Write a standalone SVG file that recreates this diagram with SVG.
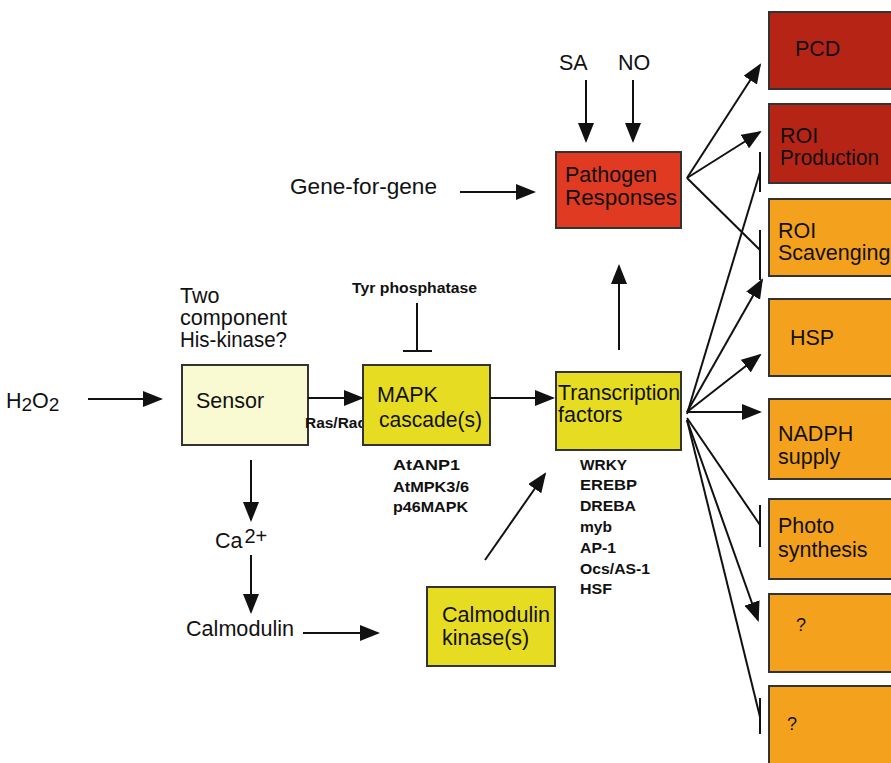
<svg xmlns="http://www.w3.org/2000/svg" width="891" height="763" viewBox="0 0 891 763">
<defs>
<marker id="ah2" viewBox="0 0 10 10" refX="9" refY="5" markerWidth="20" markerHeight="16" markerUnits="userSpaceOnUse" orient="auto" preserveAspectRatio="none">
<path d="M0,0 L10,5 L0,10 z" fill="#111"/>
</marker>
</defs>
<style>
text{font-family:"Liberation Sans",Arial,sans-serif;fill:#111}
.b{stroke:#333;stroke-width:2}
.lg{font-size:21.5px}
.sm{font-size:15px;font-weight:bold}
.c line{stroke:#111;stroke-width:2;fill:none}
.a{marker-end:url(#ah2)}
</style>
<rect width="891" height="763" fill="#fff"/>

<g id="sensor"><rect class="b" x="182" y="365" width="126" height="80" fill="#fafad2"/><text class="lg" x="196" y="408" fill="#333">Sensor</text></g>
<text id="rasrac" x="305" y="428" font-size="14" font-weight="bold" fill="#222" textLength="61" lengthAdjust="spacingAndGlyphs">Ras/Rac</text>
<g id="mapk"><rect class="b" x="363" y="365" width="127" height="80" fill="#e6dd22"/><text class="lg" x="377" y="402">MAPK</text><text class="lg" x="379" y="427" textLength="103" lengthAdjust="spacingAndGlyphs">cascade(s)</text></g>
<g id="tf"><rect class="b" x="556" y="372" width="125" height="78" fill="#e6dd22"/><text class="lg" x="558" y="400" textLength="122" lengthAdjust="spacingAndGlyphs">Transcription</text><text class="lg" x="558" y="422">factors</text></g>
<g id="pathogen"><rect class="b" x="556" y="152" width="125" height="76" fill="#e03a22"/><text class="lg" x="565" y="182">Pathogen</text><text class="lg" x="565" y="205" textLength="112" lengthAdjust="spacingAndGlyphs">Responses</text></g>
<g id="camk"><rect class="b" x="427" y="587" width="128" height="79" fill="#e6dd22"/><text class="lg" x="442" y="622" textLength="108" lengthAdjust="spacingAndGlyphs">Calmodulin</text><text class="lg" x="442" y="645">kinase(s)</text></g>

<g id="pcd"><rect class="b" x="769" y="12" width="130" height="77" fill="#b52415"/><text class="lg" x="795" y="56">PCD</text></g>
<g id="roiprod"><rect class="b" x="769" y="104" width="130" height="79" fill="#b52415"/><text class="lg" x="780" y="143">ROI</text><text class="lg" x="780" y="165" textLength="99" lengthAdjust="spacingAndGlyphs">Production</text></g>
<g id="roiscav"><rect class="b" x="769" y="199" width="130" height="77" fill="#f4a21e"/><text class="lg" x="778" y="238">ROI</text><text class="lg" x="778" y="260">Scavenging</text></g>
<g id="hsp"><rect class="b" x="769" y="299" width="130" height="77" fill="#f4a21e"/><text class="lg" x="790" y="345">HSP</text></g>
<g id="nadph"><rect class="b" x="769" y="399" width="130" height="80" fill="#f4a21e"/><text class="lg" x="778" y="441">NADPH</text><text class="lg" x="778" y="464">supply</text></g>
<g id="photo"><rect class="b" x="769" y="499" width="130" height="80" fill="#f4a21e"/><text class="lg" x="778" y="533">Photo</text><text class="lg" x="778" y="557">synthesis</text></g>
<g id="q1"><rect class="b" x="769" y="594" width="130" height="78" fill="#f4a21e"/><text x="796" y="631" font-size="18">?</text></g>
<g id="q2"><rect class="b" x="769" y="686" width="130" height="90" fill="#f4a21e"/><text x="787" y="730" font-size="18">?</text></g>

<g id="labels">
<text class="lg" x="6" y="408">H<tspan font-size="19" dy="3">2</tspan><tspan dy="-3">O</tspan><tspan font-size="19" dy="3">2</tspan></text>
<text class="lg" x="180" y="303">Two</text>
<text class="lg" x="180" y="325" textLength="107" lengthAdjust="spacingAndGlyphs">component</text>
<text class="lg" x="180" y="347" textLength="107" lengthAdjust="spacingAndGlyphs">His-kinase?</text>
<text x="352" y="293" font-size="15" font-weight="bold" textLength="125" lengthAdjust="spacingAndGlyphs">Tyr phosphatase</text>
<text class="lg" x="290" y="194" textLength="147" lengthAdjust="spacingAndGlyphs">Gene-for-gene</text>
<text class="lg" x="559" y="70">SA</text>
<text class="lg" x="618" y="70">NO</text>
<text class="lg" x="215" y="548">Ca<tspan font-size="20" dx="2" dy="-5">2+</tspan></text>
<text class="lg" x="186" y="636" textLength="108" lengthAdjust="spacingAndGlyphs">Calmodulin</text>
<text class="sm" x="393" y="470" textLength="67" lengthAdjust="spacingAndGlyphs">AtANP1</text>
<text class="sm" x="393" y="492" textLength="76" lengthAdjust="spacingAndGlyphs">AtMPK3/6</text>
<text class="sm" x="393" y="512" textLength="75" lengthAdjust="spacingAndGlyphs">p46MAPK</text>
<text class="sm" x="580" y="470" textLength="47" lengthAdjust="spacingAndGlyphs">WRKY</text>
<text class="sm" x="580" y="490" textLength="57" lengthAdjust="spacingAndGlyphs">EREBP</text>
<text class="sm" x="580" y="511" textLength="56" lengthAdjust="spacingAndGlyphs">DREBA</text>
<text class="sm" x="580" y="532" textLength="32" lengthAdjust="spacingAndGlyphs">myb</text>
<text class="sm" x="580" y="553" textLength="36" lengthAdjust="spacingAndGlyphs">AP-1</text>
<text class="sm" x="580" y="574" textLength="70" lengthAdjust="spacingAndGlyphs">Ocs/AS-1</text>
<text class="sm" x="580" y="594" textLength="32" lengthAdjust="spacingAndGlyphs">HSF</text>
</g>

<g id="connectors" class="c">
<line class="a" x1="88" y1="399" x2="161" y2="399"/>
<line class="a" x1="308" y1="398" x2="362" y2="398"/>
<line class="a" x1="490" y1="398" x2="553" y2="398"/>
<line x1="417" y1="303" x2="417" y2="351"/>
<line x1="403" y1="351" x2="432" y2="351"/>
<line class="a" x1="251" y1="460" x2="251" y2="520"/>
<line class="a" x1="251" y1="555" x2="251" y2="612"/>
<line class="a" x1="303" y1="633" x2="378" y2="633"/>
<line class="a" x1="485" y1="560" x2="545" y2="474"/>
<line class="a" x1="619" y1="350" x2="619" y2="266"/>
<line class="a" x1="460" y1="192" x2="534" y2="192"/>
<line class="a" x1="586" y1="80" x2="586" y2="141"/>
<line class="a" x1="633" y1="80" x2="633" y2="141"/>
<line class="a" x1="687" y1="178" x2="760" y2="65"/>
<line class="a" x1="687" y1="178" x2="760" y2="132"/>
<line x1="687" y1="178" x2="760" y2="250"/>
<line x1="760" y1="230" x2="760" y2="280"/>
<line x1="687" y1="414" x2="760" y2="172"/>
<line x1="760" y1="152" x2="760" y2="192"/>
<line class="a" x1="687" y1="412" x2="762" y2="280"/>
<line class="a" x1="687" y1="412" x2="760" y2="355"/>
<line class="a" x1="687" y1="412" x2="760" y2="412"/>
<line x1="687" y1="418" x2="760" y2="525"/>
<line x1="760" y1="505" x2="760" y2="547"/>
<line class="a" x1="687" y1="420" x2="758" y2="620"/>
<line x1="687" y1="420" x2="760" y2="717"/>
<line x1="760" y1="698" x2="760" y2="734"/>
</g>
</svg>
